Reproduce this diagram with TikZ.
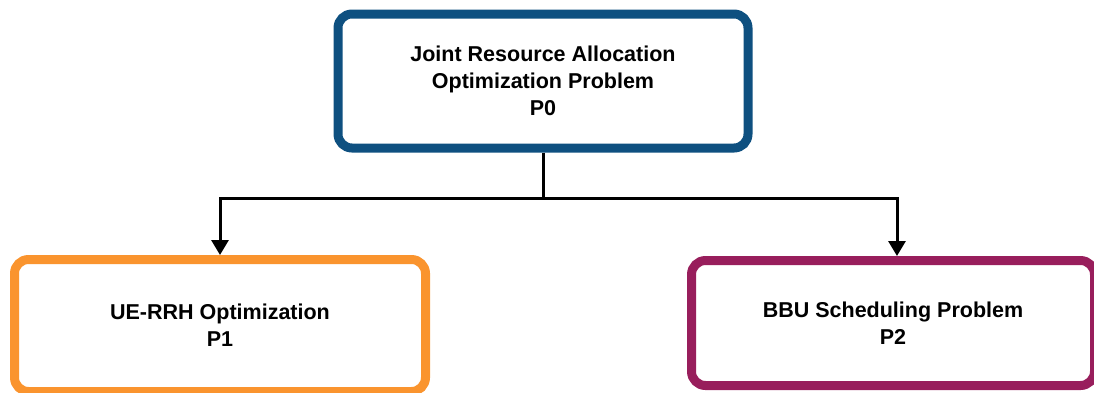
\documentclass[tikz,border=0pt]{standalone}
\usepackage{fontspec}
\setmainfont{Liberation Sans}
\usetikzlibrary{arrows.meta,calc}
\definecolor{boxblue}{RGB}{14,80,128}
\definecolor{boxorange}{RGB}{250,148,46}
\definecolor{boxpurple}{RGB}{152,30,92}
\begin{document}
\begin{tikzpicture}[x=1pt,y=-1pt,
  probbox/.style={draw, line width=9pt, rounded corners=14pt, fill=white,
    align=center, inner sep=0pt,
    font=\fontsize{21.5}{27}\selectfont\bfseries},
  conn/.style={line width=3pt, black},
  tip/.style={-{Triangle[width=17pt,length=15pt]}}]
\useasboundingbox (0,0) rectangle (1094,392);
\clip (0,0) rectangle (1094,392);
\node[probbox, draw=boxblue, minimum width=410pt, minimum height=134pt] (p0) at (543,81)
  {Joint Resource Allocation\\Optimization Problem\\P0};
\node[probbox, draw=boxorange, minimum width=411pt, minimum height=132pt] (p1) at (220,325.5)
  {UE-RRH Optimization\\P1};
\node[probbox, draw=boxpurple, minimum width=403pt, minimum height=125pt] (p2) at (893,323)
  {BBU Scheduling Problem\\P2};
\coordinate (j) at (543,198);
\coordinate (p2in) at ([xshift=4pt]p2.north);
\draw[conn] (p0.south) -- (j);
\draw[conn, tip] (j) -| (p1.north);
\draw[conn, tip] (j) -| (p2in);
\end{tikzpicture}
\end{document}
